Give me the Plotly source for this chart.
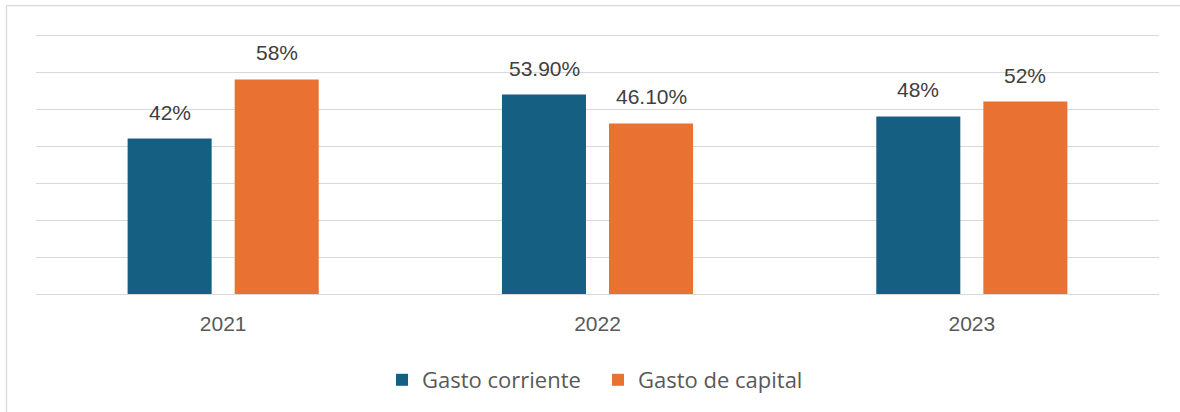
import plotly.graph_objects as go

# ---- data ----
years = ["2021", "2022", "2023"]
gasto_corriente = [42, 53.9, 48]
gasto_capital = [58, 46.1, 52]
labels_corriente = ["42%", "53.90%", "48%"]
labels_capital = ["58%", "46.10%", "52%"]
series_names = ["Gasto corriente", "Gasto de capital"]

# ---- style ----
BLUE = "#156082"
ORANGE = "#E97132"
TEXT = "#595959"
GRID = "#D9D9D9"
NUM_FONT = "Liberation Sans, Arial, sans-serif"
LEG_FONT = "Open Sans, Liberation Sans, sans-serif"

W, H = 1180, 412
ML, MR, MT, MB = 36, 21, 32, 117
Y_TOP = 70.81  # a little headroom so the 70 gridline is drawn

fig = go.Figure()
fig.add_trace(go.Bar(x=years, y=gasto_corriente, name=series_names[0],
                     marker=dict(color=BLUE, line=dict(width=0))))
fig.add_trace(go.Bar(x=years, y=gasto_capital, name=series_names[1],
                     marker=dict(color=ORANGE, line=dict(width=0))))

annotations = []
for vals, labs, dx in ((gasto_corriente, labels_corriente, -53.5),
                       (gasto_capital, labels_capital, 53.5)):
    for i, (v, lab) in enumerate(zip(vals, labs)):
        # category index i on the category axis
        annotations.append(dict(x=i, y=v, xref="x", yref="y", text=lab,
                                showarrow=False, xanchor="center", yanchor="bottom",
                                xshift=dx, yshift=13,
                                font=dict(family=NUM_FONT, size=21, color="#404040")))

plot_w = W - ML - MR
plot_h = H - MT - MB
fx = lambda px: (px - ML) / plot_w
fy = lambda py: (H - MB - py) / plot_h

shapes = [
    dict(type="line", xref="paper", yref="paper", x0=fx(6.5), x1=fx(6.5),
         y0=fy(5.5), y1=fy(430), line=dict(color=GRID, width=1.3), layer="below"),
    dict(type="line", xref="paper", yref="paper", x0=fx(6.5), x1=fx(1200),
         y0=fy(5.5), y1=fy(5.5), line=dict(color=GRID, width=1.3), layer="below"),
]

fig.update_layout(
    width=W, height=H,
    margin=dict(l=ML, r=MR, t=MT, b=MB, pad=0),
    paper_bgcolor="white", plot_bgcolor="white",
    barmode="group", bargap=0.428, bargroupgap=0.215,
    showlegend=True,
    legend=dict(orientation="h", x=fx(382), xanchor="left", y=fy(380),
                yanchor="middle", font=dict(family=LEG_FONT, size=22, color=TEXT),
                entrywidth=171, entrywidthmode="pixels",
                bgcolor="rgba(0,0,0,0)", traceorder="normal"),
    annotations=annotations,
    shapes=shapes,
    xaxis=dict(type="category", range=[-0.5, len(years) - 0.5],
               showgrid=False, showline=False, ticks="",
               tickfont=dict(family=NUM_FONT, size=21, color=TEXT),
               ticklabelstandoff=15, zeroline=False),
    yaxis=dict(range=[0, Y_TOP], dtick=10, tick0=0, showgrid=True, gridcolor=GRID,
               gridwidth=1.3, zeroline=True, zerolinecolor=GRID, zerolinewidth=1.3,
               showticklabels=False, ticks="", showline=False),
)

fig.write_html("out.html", config={"displayModeBar": False},
               post_script="document.body.style.margin='0';document.body.style.overflow='hidden';")
